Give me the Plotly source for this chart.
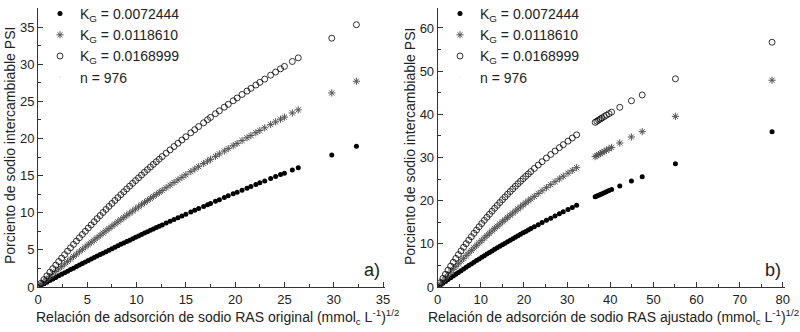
import plotly.graph_objects as go

# ---------------- data ----------------
legend_names = ["K<sub>G</sub> = 0.0072444", "K<sub>G</sub> = 0.0118610", "K<sub>G</sub> = 0.0168999"]
n_label = "n = 976"

# panel a) RAS original
ras_a = [0.3, 0.6, 0.9, 1.2, 1.5, 1.8, 2.1, 2.4, 2.7, 3.0, 3.3, 3.6, 3.9, 4.2, 4.5, 4.8, 5.1, 5.4, 5.7, 6.0,
         6.3, 6.6, 6.9, 7.2, 7.5, 7.8, 8.1, 8.4, 8.7, 9.0, 9.3, 9.6, 9.9, 10.2, 10.5, 10.8, 11.1, 11.4, 11.7, 12.0,
         12.3, 12.6,
         13.0, 13.4, 13.8, 14.2, 14.6, 15.0, 15.5, 15.9, 16.3, 16.8, 17.2, 17.5, 18.0, 18.4, 18.9, 19.3, 19.8, 20.2,
         20.7, 21.2, 21.6, 22.1, 22.5, 23.0, 23.6, 24.1, 24.6, 25.0, 25.8, 26.4, 29.8, 32.3]
psi_a_k1 = [0.22, 0.43, 0.65, 0.86, 1.08, 1.29, 1.50, 1.71, 1.92, 2.13, 2.34, 2.54, 2.75, 2.95, 3.16, 3.36, 3.56,
            3.77, 3.97, 4.17, 4.37, 4.56, 4.76, 4.96, 5.15, 5.35, 5.54, 5.74, 5.93, 6.12, 6.31, 6.50, 6.69, 6.88,
            7.07, 7.26, 7.44, 7.63, 7.81, 8.00, 8.18, 8.36,
            8.61, 8.85, 9.09, 9.33, 9.57, 9.80, 10.10, 10.33, 10.56, 10.85, 11.08, 11.25, 11.54, 11.76, 12.04,
            12.27, 12.55, 12.77, 13.04, 13.31, 13.53, 13.80, 14.02, 14.28, 14.60, 14.86, 15.13, 15.33, 15.75,
            16.06, 17.76, 18.96]
psi_a_k2 = [0.36, 0.71, 1.06, 1.40, 1.75, 2.09, 2.43, 2.77, 3.10, 3.44, 3.77, 4.10, 4.42, 4.75, 5.07, 5.39, 5.70,
            6.02, 6.33, 6.64, 6.95, 7.26, 7.57, 7.87, 8.17, 8.47, 8.77, 9.06, 9.35, 9.65, 9.94, 10.22, 10.51,
            10.79, 11.08, 11.36, 11.63, 11.91, 12.19, 12.46, 12.73, 13.00,
            13.36, 13.71, 14.07, 14.42, 14.76, 15.11, 15.53, 15.87, 16.20, 16.62, 16.94, 17.19, 17.59, 17.92,
            18.31, 18.63, 19.02, 19.33, 19.71, 20.09, 20.40, 20.77, 21.07, 21.43, 21.87, 22.23, 22.59, 22.87,
            23.43, 23.85, 26.12, 27.70]
psi_a_k3 = [0.50, 1.00, 1.50, 1.99, 2.47, 2.95, 3.43, 3.90, 4.36, 4.83, 5.28, 5.74, 6.18, 6.63, 7.07, 7.50, 7.94,
            8.36, 8.79, 9.21, 9.62, 10.04, 10.44, 10.85, 11.25, 11.65, 12.04, 12.43, 12.82, 13.20, 13.58, 13.96,
            14.33, 14.70, 15.07, 15.44, 15.80, 16.15, 16.51, 16.86, 17.21, 17.56,
            18.01, 18.46, 18.91, 19.35, 19.79, 20.22, 20.76, 21.18, 21.60, 22.11, 22.52, 22.83, 23.33, 23.72,
            24.21, 24.59, 25.07, 25.45, 25.92, 26.38, 26.74, 27.19, 27.55, 27.99, 28.52, 28.94, 29.37, 29.70,
            30.36, 30.85, 33.50, 35.31]

# panel b) RAS ajustado
ras_b = [0.6, 1.2, 1.8, 2.4, 3.0, 3.6, 4.2, 4.8, 5.4, 6.0, 6.6, 7.2, 7.8, 8.4, 9.0, 9.6, 10.2, 10.8, 11.4, 12.0,
         12.6, 13.2, 13.8, 14.4, 15.0, 15.6, 16.2, 16.8, 17.4, 18.0, 18.6, 19.2, 19.8, 20.4, 21.0, 21.6,
         22.4, 23.3, 24.2, 25.2, 26.2, 27.2, 28.2, 29.1, 30.2, 31.2, 32.2,
         36.5, 36.9, 37.3, 37.7, 38.1, 38.6, 39.1, 39.7, 40.3,
         42.2, 44.9, 47.4, 55.1, 77.5]
psi_b_k1 = [0.43, 0.86, 1.29, 1.71, 2.13, 2.54, 2.95, 3.36, 3.77, 4.17, 4.56, 4.96, 5.35, 5.74, 6.12, 6.50, 6.88,
            7.26, 7.63, 8.00, 8.36, 8.73, 9.09, 9.45, 9.80, 10.15, 10.50, 10.85, 11.19, 11.54, 11.88, 12.21,
            12.55, 12.88, 13.20, 13.53,
            13.96, 14.44, 14.92, 15.44, 15.95, 16.46, 16.96, 17.41, 17.95, 18.44, 18.92,
            20.91, 21.09, 21.27, 21.45, 21.63, 21.85, 22.07, 22.34, 22.60,
            23.41, 24.54, 25.56, 28.53, 35.96]
psi_b_k2 = [0.71, 1.40, 2.09, 2.77, 3.44, 4.10, 4.75, 5.39, 6.02, 6.64, 7.26, 7.87, 8.47, 9.06, 9.65, 10.22, 10.79,
            11.36, 11.91, 12.46, 13.00, 13.54, 14.07, 14.59, 15.11, 15.61, 16.12, 16.62, 17.11, 17.59, 18.07,
            18.55, 19.02, 19.48, 19.94, 20.40,
            20.99, 21.65, 22.30, 23.01, 23.71, 24.39, 25.06, 25.66, 26.37, 27.01, 27.64,
            30.21, 30.44, 30.67, 30.90, 31.13, 31.41, 31.68, 32.01, 32.34,
            33.36, 34.75, 35.99, 39.52, 47.90]
psi_b_k3 = [1.00, 1.99, 2.95, 3.90, 4.83, 5.74, 6.63, 7.50, 8.36, 9.21, 10.04, 10.85, 11.65, 12.43, 13.20, 13.96,
            14.70, 15.44, 16.15, 16.86, 17.56, 18.24, 18.91, 19.57, 20.22, 20.86, 21.49, 22.11, 22.72, 23.33,
            23.92, 24.50, 25.07, 25.64, 26.19, 26.74,
            27.46, 28.25, 29.03, 29.87, 30.69, 31.49, 32.28, 32.97, 33.79, 34.52, 35.24,
            38.15, 38.41, 38.67, 38.92, 39.17, 39.48, 39.79, 40.15, 40.51,
            41.63, 43.14, 44.48, 48.22, 56.70]

# ---------------- styling ----------------
FONT = "Liberation Sans, Arial, sans-serif"
TXT = "#222222"
AX = "#333333"
W, H = 800, 332

styles = [
    dict(symbol="circle", size=5, color="black", line=dict(width=0)),
    dict(symbol="asterisk-open", size=6, color="#555555", line=dict(width=1, color="#555555")),
    dict(symbol="circle-open", size=6, color="black", line=dict(width=0.8, color="black")),
]

fig = go.Figure()

panels = [
    ("x", "y", "legend", ras_a, [psi_a_k1, psi_a_k2, psi_a_k3]),
    ("x2", "y2", "legend2", ras_b, [psi_b_k1, psi_b_k2, psi_b_k3]),
]
for xa, ya, lg, xs, ys_list in panels:
    for name, ys, st in zip(legend_names, ys_list, styles):
        fig.add_trace(go.Scatter(x=xs, y=ys, mode="markers", name=name, marker=st,
                                 xaxis=xa, yaxis=ya, legend=lg, cliponaxis=False))
    fig.add_trace(go.Scatter(x=[None], y=[None], mode="markers", name=n_label,
                             marker=dict(opacity=0, size=1), xaxis=xa, yaxis=ya, legend=lg))


def axis(domain, rng, dtick, minor, anchor):
    return dict(domain=domain, range=rng, dtick=dtick, tick0=0, anchor=anchor, automargin=False,
                showline=True, linecolor=AX, linewidth=1, mirror=False,
                ticks="inside", ticklen=5, tickwidth=1, tickcolor=AX,
                minor=dict(ticks="inside", ticklen=3, dtick=minor, tickcolor=AX, tickwidth=1),
                showgrid=False, zeroline=False, fixedrange=True,
                tickfont=dict(family=FONT, size=13, color=TXT))

ydom = [(H - 287) / H, (H - 8) / H]
leg = dict(yanchor="top", xanchor="left", y=1.0 + 2 / H, font=dict(family=FONT, size=14, color=TXT),
           bgcolor="rgba(0,0,0,0)", borderwidth=0, tracegroupgap=0)

fig.update_layout(
    width=W, height=H, margin=dict(l=0, r=0, t=0, b=0, autoexpand=False),
    paper_bgcolor="white", plot_bgcolor="white",
    font=dict(family=FONT, color=TXT),
    xaxis=axis([38 / W, 385 / W], [0, 35.2], 5, 2.5, "y"),
    yaxis=axis(ydom, [0, 37.56], 5, 2.5, "x"),
    xaxis2=axis([437.7 / W, 785 / W], [0, 80.5], 10, 5, "y2"),
    yaxis2=axis(ydom, [0, 64.63], 10, 5, "x2"),
    legend=dict(leg, x=40 / W),
    legend2=dict(leg, x=440 / W),
    showlegend=True,
)

ann_font = dict(family=FONT, size=14, color=TXT)
annotations = [
    dict(text="Relación de adsorción de sodio RAS original (mmol<sub>c</sub> L<sup>-1</sup>)<sup>1/2</sup>",
         x=217 / W, y=1 - 317 / H),
    dict(text="Relación de adsorción de sodio RAS ajustado (mmol<sub>c</sub> L<sup>-1</sup>)<sup>1/2</sup>",
         x=613 / W, y=1 - 317 / H),
    dict(text="Porciento de sodio intercambiable PSI", x=10 / W, y=1 - 146 / H, textangle=-90),
    dict(text="Porciento de sodio intercambiable PSI", x=410 / W, y=1 - 146 / H, textangle=-90),
    dict(text="a)", x=372 / W, y=1 - 270 / H, font=dict(family=FONT, size=18, color=TXT)),
    dict(text="b)", x=773 / W, y=1 - 270 / H, font=dict(family=FONT, size=18, color=TXT)),
]
for a in annotations:
    fig.add_annotation(xref="paper", yref="paper", showarrow=False, xanchor="center", yanchor="middle",
                       font=a.pop("font", ann_font), **a)

fig.write_html("out.html", config={"displayModeBar": False},
               post_script="document.body.style.margin='0';document.body.style.overflow='hidden';")
